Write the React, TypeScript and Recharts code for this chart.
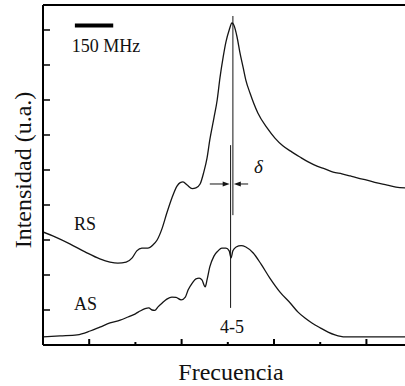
import React from 'react';
import { LineChart, Line, XAxis, YAxis, ReferenceLine } from 'recharts';

// frequency in arbitrary units (1 unit = one x tick), intensity in arbitrary units
const rsFreq = [0, 0.26, 0.58, 0.91, 1.23, 1.45, 1.62, 1.8, 1.93, 2.03, 2.14, 2.27, 2.38, 2.47, 2.58, 2.68, 2.79, 2.9, 2.97, 3.03, 3.12, 3.23, 3.31, 3.4, 3.48, 3.55, 3.61, 3.7, 3.77, 3.83, 3.9, 3.96, 4.03, 4.09, 4.13, 4.2, 4.26, 4.33, 4.39, 4.48, 4.65, 4.85, 5.02, 5.19, 5.39, 5.56, 5.74, 5.93, 6.1, 6.28, 6.47, 6.65, 6.82, 7.01, 7.23, 7.45, 7.64, 7.84];
const rsInt = [3.23, 3.09, 2.89, 2.66, 2.46, 2.37, 2.34, 2.37, 2.49, 2.69, 2.77, 2.77, 2.86, 3.0, 3.34, 3.77, 4.2, 4.54, 4.64, 4.66, 4.57, 4.47, 4.49, 4.6, 4.94, 5.34, 5.86, 6.49, 7.0, 7.63, 8.23, 8.66, 9.0, 9.2, 9.14, 8.8, 8.37, 7.94, 7.57, 7.2, 6.63, 6.2, 5.91, 5.69, 5.51, 5.37, 5.23, 5.11, 5.03, 4.94, 4.89, 4.83, 4.77, 4.71, 4.63, 4.57, 4.51, 4.49];

const asFreq = [0, 0.37, 0.74, 1.02, 1.23, 1.45, 1.67, 1.84, 2.0, 2.1, 2.21, 2.29, 2.36, 2.42, 2.49, 2.58, 2.68, 2.79, 2.88, 2.99, 3.08, 3.14, 3.23, 3.31, 3.38, 3.44, 3.51, 3.55, 3.61, 3.7, 3.79, 3.87, 3.96, 4.03, 4.07, 4.11, 4.18, 4.29, 4.39, 4.55, 4.72, 4.91, 5.13, 5.35, 5.52, 5.67, 5.82, 6.0, 6.17, 6.32, 6.54, 6.86, 7.29, 7.84];
const asInt = [0.23, 0.26, 0.29, 0.4, 0.51, 0.63, 0.71, 0.8, 0.89, 0.97, 1.04, 1.06, 1.0, 0.99, 1.09, 1.2, 1.31, 1.37, 1.36, 1.29, 1.37, 1.57, 1.77, 1.89, 1.91, 1.86, 1.66, 1.86, 2.23, 2.54, 2.69, 2.77, 2.77, 2.69, 2.49, 2.69, 2.8, 2.84, 2.8, 2.63, 2.31, 1.91, 1.51, 1.2, 0.94, 0.77, 0.63, 0.49, 0.37, 0.29, 0.23, 0.23, 0.23, 0.23];

const xTicks = [1, 2, 3, 4, 5, 6, 7];
const xMajor = [1, 3, 5, 7];
const yTicks = [1, 2, 3, 4, 5, 6, 7, 8, 9];

// marker lines: RS peak, AS dip (4-5), separation delta, 150 MHz scale bar
const rsMark = [{ x: 4.11, y: 9.4 }, { x: 4.11, y: 3.71 }];
const asMark = [{ x: 4.06, y: 5.71 }, { x: 4.06, y: 1.06 }];
const arrowLeft = [{ x: 3.61, y: 4.6 }, { x: 4.04, y: 4.6 }];
const arrowRight = [{ x: 4.44, y: 4.6 }, { x: 4.13, y: 4.6 }];
const scaleBar = [{ x: 0.69, y: 9.13 }, { x: 1.52, y: 9.13 }];

const rsData = rsFreq.map((x, i) => ({ x, y: rsInt[i] }));
const asData = asFreq.map((x, i) => ({ x, y: asInt[i] }));

const serif = '"Liberation Serif", "DejaVu Serif", serif';
const ink = '#151515';

const XTick = (props: any) => {
  const { x, y, payload } = props;
  const len = xMajor.includes(payload.value) ? 6 : 3;
  return <line x1={x} y1={y} x2={x} y2={y - len} stroke="#000" strokeWidth={2} />;
};

const YTick = (props: any) => {
  const { x, y } = props;
  return <line x1={x} y1={y} x2={x + 7} y2={y} stroke="#000" strokeWidth={1.5} />;
};

const Arrow = (props: any) => {
  const { x1, y1, x2, y2 } = props;
  const dir = x2 > x1 ? 1 : -1;
  return (
    <g>
      <line x1={x1} y1={y1} x2={x2 - dir * 5} y2={y2} stroke={ink} strokeWidth={1} />
      <polygon points={`${x2},${y2} ${x2 - dir * 7},${y2 - 2.5} ${x2 - dir * 7},${y2 + 2.5}`} fill={ink} />
    </g>
  );
};

export default function App() {
  return (
    <div style={{ position: 'absolute', left: 0, top: 0, width: 405, height: 386, background: '#fff' }}>
      <LineChart width={405} height={386} margin={{ top: 4, right: 0, left: 42, bottom: 40 }}>
        <XAxis
          dataKey="x"
          type="number"
          domain={[0, 7.835]}
          ticks={xTicks}
          allowDataOverflow
          height={1}
          tickSize={0}
          tickMargin={0}
          tickLine={false}
          tick={<XTick />}
          axisLine={{ stroke: '#000', strokeWidth: 2 }}
        />
        <XAxis
          xAxisId="top"
          orientation="top"
          dataKey="x"
          type="number"
          domain={[0, 7.835]}
          height={1}
          tick={false}
          tickLine={false}
          axisLine={{ stroke: '#000', strokeWidth: 2 }}
        />
        <YAxis
          type="number"
          domain={[0, 9.714]}
          ticks={yTicks}
          allowDataOverflow
          width={1}
          tickSize={0}
          tickMargin={0}
          tickLine={false}
          tick={<YTick />}
          axisLine={{ stroke: '#000', strokeWidth: 2 }}
        />
        <Line data={rsData} dataKey="y" type="monotone" dot={false} stroke={ink} strokeWidth={1.3} isAnimationActive={false} />
        <Line data={asData} dataKey="y" type="monotone" dot={false} stroke={ink} strokeWidth={1.3} isAnimationActive={false} />
        <ReferenceLine segment={rsMark} stroke={ink} strokeWidth={1} />
        <ReferenceLine segment={asMark} stroke={ink} strokeWidth={1} />
        <ReferenceLine segment={arrowLeft} shape={<Arrow />} />
        <ReferenceLine segment={arrowRight} shape={<Arrow />} />
        <ReferenceLine segment={scaleBar} stroke="#000" strokeWidth={4} />
      </LineChart>
      <svg width={405} height={386} style={{ position: 'absolute', left: 0, top: 0, pointerEvents: 'none' }}>
        <g fontFamily={serif} fill="#111">
          <text x={106} y={52} fontSize={18} textAnchor="middle">150 MHz</text>
          <text x={74} y={230} fontSize={18}>RS</text>
          <text x={74} y={310} fontSize={18}>AS</text>
          <text x={232} y={333} fontSize={18} textAnchor="middle">4-5</text>
          <text x={254} y={173} fontSize={19} fontStyle="italic">δ</text>
          <text x={231} y={380} fontSize={24} textAnchor="middle">Frecuencia</text>
          <text x={0} y={0} fontSize={24} textAnchor="middle" transform="translate(31,170) rotate(-90)">Intensidad (u.a.)</text>
        </g>
      </svg>
    </div>
  );
}
